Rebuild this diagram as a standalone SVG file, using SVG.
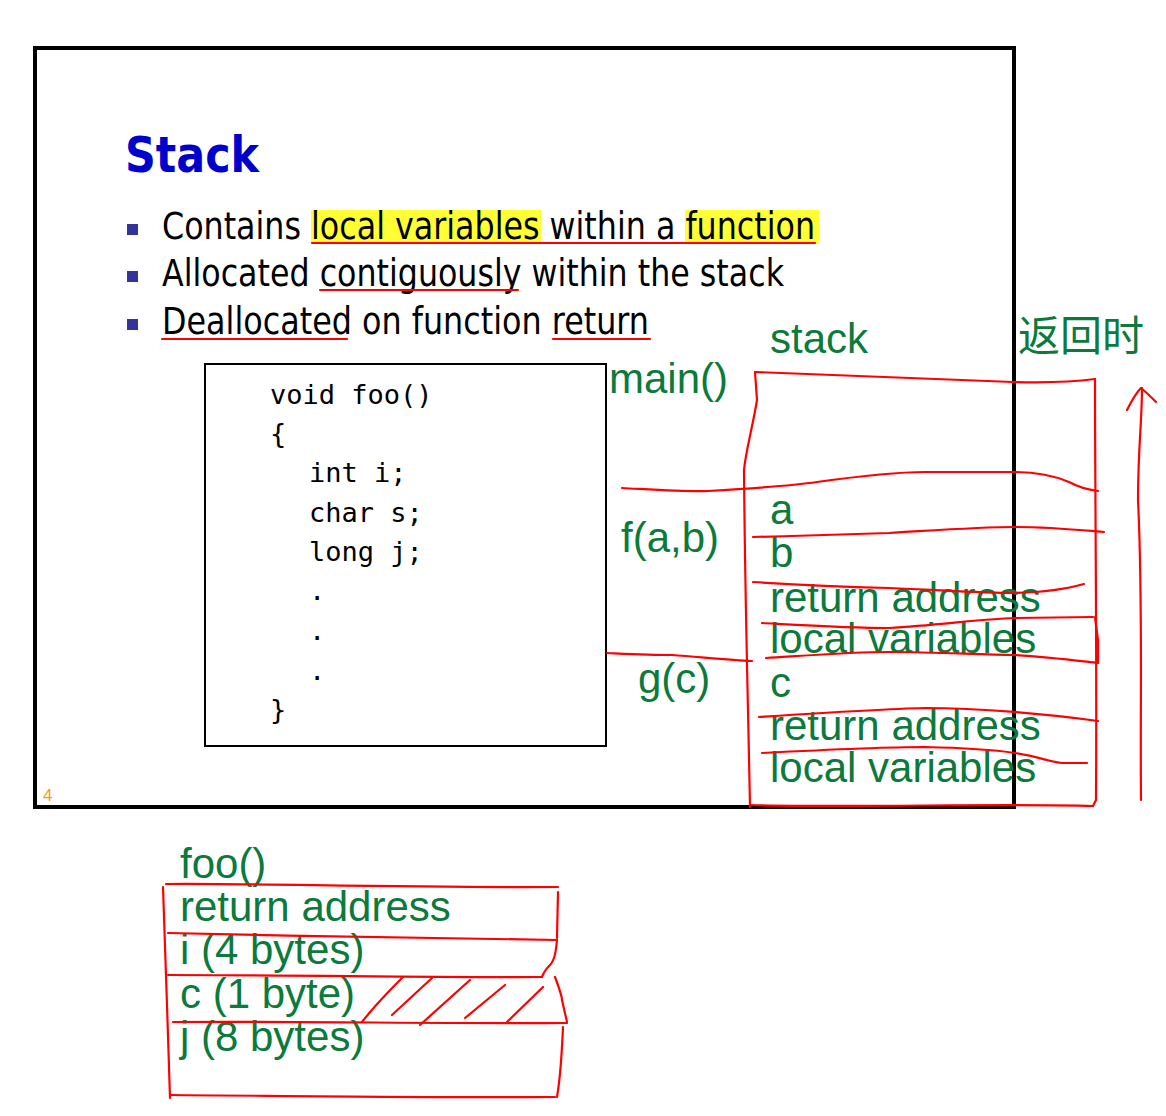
<svg xmlns="http://www.w3.org/2000/svg" width="1166" height="1116" viewBox="0 0 1166 1116">
<style>
.bul{font-family:"DejaVu Sans","Liberation Sans",sans-serif;font-size:37px;fill:#000}
.code{font-family:"DejaVu Sans Mono","Liberation Mono",monospace;font-size:27px;fill:#000}
.g{font-family:"Liberation Sans",Arial,"Noto Sans CJK SC",sans-serif;font-size:42px;fill:#0B7A3B}
.r{fill:none;stroke:#FF0000;stroke-width:2.2;stroke-linecap:round;stroke-linejoin:round}
.hl{fill:#FFFF33}
.bsq{fill:#333399}
</style>
<rect width="1166" height="1116" fill="#fff"/>
<g id="slide">
<rect x="35" y="48" width="979" height="759" fill="none" stroke="#000" stroke-width="4"/>
<text x="125" y="172" font-family="DejaVu Sans,Liberation Sans,sans-serif" font-weight="bold" font-size="50" fill="#0000CC" textLength="134" lengthAdjust="spacingAndGlyphs">Stack</text>
<rect class="bsq" x="127" y="224" width="11" height="11"/>
<rect class="bsq" x="127" y="271" width="11" height="11"/>
<rect class="bsq" x="127" y="319" width="11" height="11"/>
<rect class="hl" x="311" y="210" width="230" height="34"/>
<rect class="hl" x="685" y="210" width="134" height="34"/>
<text class="bul" x="162" y="239" textLength="653" lengthAdjust="spacingAndGlyphs">Contains local variables within a function</text>
<text class="bul" x="162" y="286" textLength="622" lengthAdjust="spacingAndGlyphs">Allocated contiguously within the stack</text>
<text class="bul" x="162" y="334" textLength="487" lengthAdjust="spacingAndGlyphs">Deallocated on function return</text>
<path class="r" d="M312 243 L815 243"/>
<path class="r" d="M320 290 L518 290"/>
<path class="r" d="M162 339 L347 339 M553 339 L650 339"/>
<text x="43" y="801" font-family="Liberation Sans,sans-serif" font-size="17" fill="#FF9900">4</text>
</g>
<g id="code">
<rect x="205" y="364" width="401" height="382" fill="#fff" stroke="#000" stroke-width="2"/>
<text class="code" x="270" y="404">void foo()</text>
<text class="code" x="270" y="443">{</text>
<text class="code" x="309" y="482">int i;</text>
<text class="code" x="309" y="522">char s;</text>
<text class="code" x="309" y="561">long j;</text>
<text class="code" x="309" y="600">.</text>
<text class="code" x="309" y="640">.</text>
<text class="code" x="309" y="680">.</text>
<text class="code" x="270" y="719">}</text>
</g>
<g id="stack-labels">
<text class="g" x="770" y="353">stack</text>
<text class="g" x="1018" y="351" font-family="Noto Sans CJK SC,sans-serif" font-size="41">返回时</text>
<text class="g" x="609" y="393">main()</text>
<text class="g" x="621" y="552">f(a,b)</text>
<text class="g" x="638" y="693">g(c)</text>
<text class="g" x="770" y="524">a</text>
<text class="g" x="770" y="567">b</text>
<text class="g" x="770" y="612">return address</text>
<text class="g" x="770" y="653">local variables</text>
<text class="g" x="770" y="697">c</text>
<text class="g" x="770" y="740">return address</text>
<text class="g" x="770" y="782">local variables</text>
</g>
<g id="foo-frame-labels">
<text class="g" x="180" y="878">foo()</text>
<text class="g" x="180" y="921">return address</text>
<text class="g" x="180" y="964">i (4 bytes)</text>
<text class="g" x="180" y="1008">c (1 byte)</text>
<text class="g" x="180" y="1051">j (8 bytes)</text>
</g>
<g id="connectors">
<path class="r" d="M755 372 C800 374 900 378 1013 382 C1050 383 1080 381 1095 379"/>
<path class="r" d="M755 372 L757 400 C752 430 746 450 744 470 C745 600 748 700 750 807"/>
<path class="r" d="M1095 379 C1095 500 1097 650 1096 800 L1093 806"/>
<path class="r" d="M750 805 C850 808 1000 803 1093 806"/>
<path class="r" d="M622 488 C660 490 690 492 708 491 C760 488 790 486 817 482 C860 476 900 472 925 472 L1013 472 C1040 472 1055 476 1069 482 C1080 488 1090 490 1098 491"/>
<path class="r" d="M753 537 C800 536 850 534 889 533 C940 530 980 527 1015 527 C1050 527 1080 530 1104 532"/>
<path class="r" d="M753 582 C800 585 850 587 889 588 C940 590 980 593 1015 593 C1050 592 1070 588 1084 584"/>
<path class="r" d="M762 623 C800 625 850 628 889 628 C940 625 980 619 1015 618 L1093 617"/>
<path class="r" d="M1095 617 L1098 640 L1098 663"/>
<path class="r" d="M766 658 C800 656 850 652 889 652 C940 652 980 655 1015 655 C1050 657 1080 661 1098 663"/>
<path class="r" d="M607 653 C630 654 650 655 672 655 C700 657 730 660 752 661"/>
<path class="r" d="M759 717 C820 713 880 709 925 708 C980 708 1050 714 1098 721"/>
<path class="r" d="M762 753 C820 750 880 747 925 747 C970 748 995 750 1015 753 C1040 757 1050 762 1062 763 L1087 763"/>
<path class="r" d="M1141 800 C1140 700 1143 600 1138 500 C1138 450 1142 420 1142 388"/>
<path class="r" d="M1127 410 C1132 400 1137 392 1141 388 C1146 392 1152 398 1156 402"/>
<path class="r" d="M166 884 C250 883 400 888 558 887"/>
<path class="r" d="M163 887 C165 950 168 1030 170 1098"/>
<path class="r" d="M558 892 L557 938"/>
<path class="r" d="M168 933 C300 936 450 939 557 940"/>
<path class="r" d="M557 940 C556 950 555 960 550 965 C545 970 543 974 542 977"/>
<path class="r" d="M168 975 C300 975 450 978 542 977"/>
<path class="r" d="M555 977 C558 985 562 997 562 1000 L567 1022"/>
<path class="r" d="M173 1022 C300 1021 450 1024 567 1023"/>
<path class="r" d="M563 1027 C562 1050 560 1080 557 1097"/>
<path class="r" d="M170 1095 C300 1096 450 1098 555 1097"/>
<path class="r" d="M362 1022 C375 1005 390 990 403 977"/>
<path class="r" d="M392 1015 L432 978"/>
<path class="r" d="M420 1025 L470 980"/>
<path class="r" d="M465 1018 L505 985"/>
<path class="r" d="M507 1022 L543 987"/>
</g>
</svg>
